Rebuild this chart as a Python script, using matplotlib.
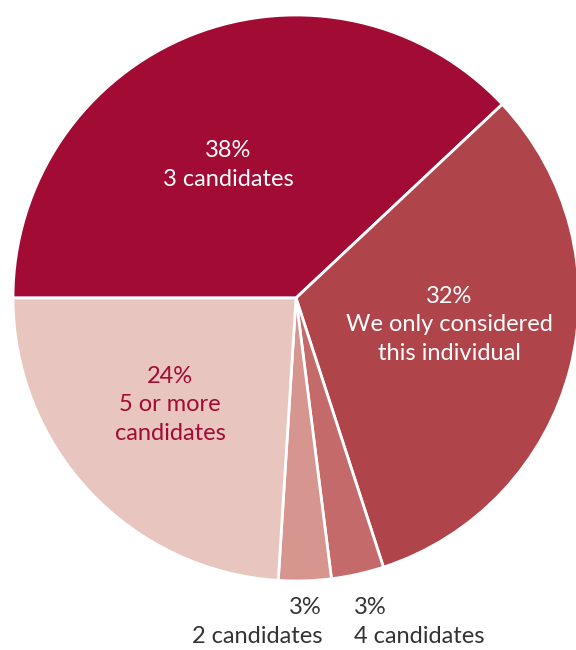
import matplotlib.pyplot as plt

# Slice data, clockwise from 9 o'clock
shares = [38, 32, 3, 3, 24]
names = ["3 candidates", "We only considered\nthis individual", "4 candidates",
         "2 candidates", "5 or more\ncandidates"]
colors = ["#A20B33", "#B0444B", "#C46A6A", "#D6958F", "#E8C5BF"]

plt.rcParams['font.family'] = ['Lato', 'DejaVu Sans']

fig = plt.figure(figsize=(5.76, 6.5), dpi=100)
ax = fig.add_axes([13 / 576, 69 / 650, 566 / 576, 566 / 650])

ax.pie(shares, colors=colors, startangle=180, counterclock=False,
       wedgeprops=dict(edgecolor='white', linewidth=2))
ax.set_xlim(-1, 1)
ax.set_ylim(-1, 1)
ax.set_aspect('equal')
ax.axis('off')

fs = 17
ls = 1.45
ax.text(-0.240, 0.470, f"{shares[0]}%\n{names[0]}", color='white', fontsize=fs,
        ha='center', va='center', linespacing=ls)
ax.text(0.541, -0.095, f"{shares[1]}%\n{names[1]}", color='white', fontsize=fs,
        ha='center', va='center', linespacing=ls)
ax.text(-0.445, -0.378, f"{shares[4]}%\n{names[4]}", color='#A20B33', fontsize=fs,
        ha='center', va='center', linespacing=ls)
ax.text(0.092, -1.145, f"{shares[3]}%\n{names[3]}", color='#333333', fontsize=fs,
        ha='right', va='center', linespacing=ls, multialignment='right', clip_on=False)
ax.text(0.205, -1.145, f"{shares[2]}%\n{names[2]}", color='#333333', fontsize=fs,
        ha='left', va='center', linespacing=ls, multialignment='left', clip_on=False)

fig.savefig("out.png", dpi=100)
